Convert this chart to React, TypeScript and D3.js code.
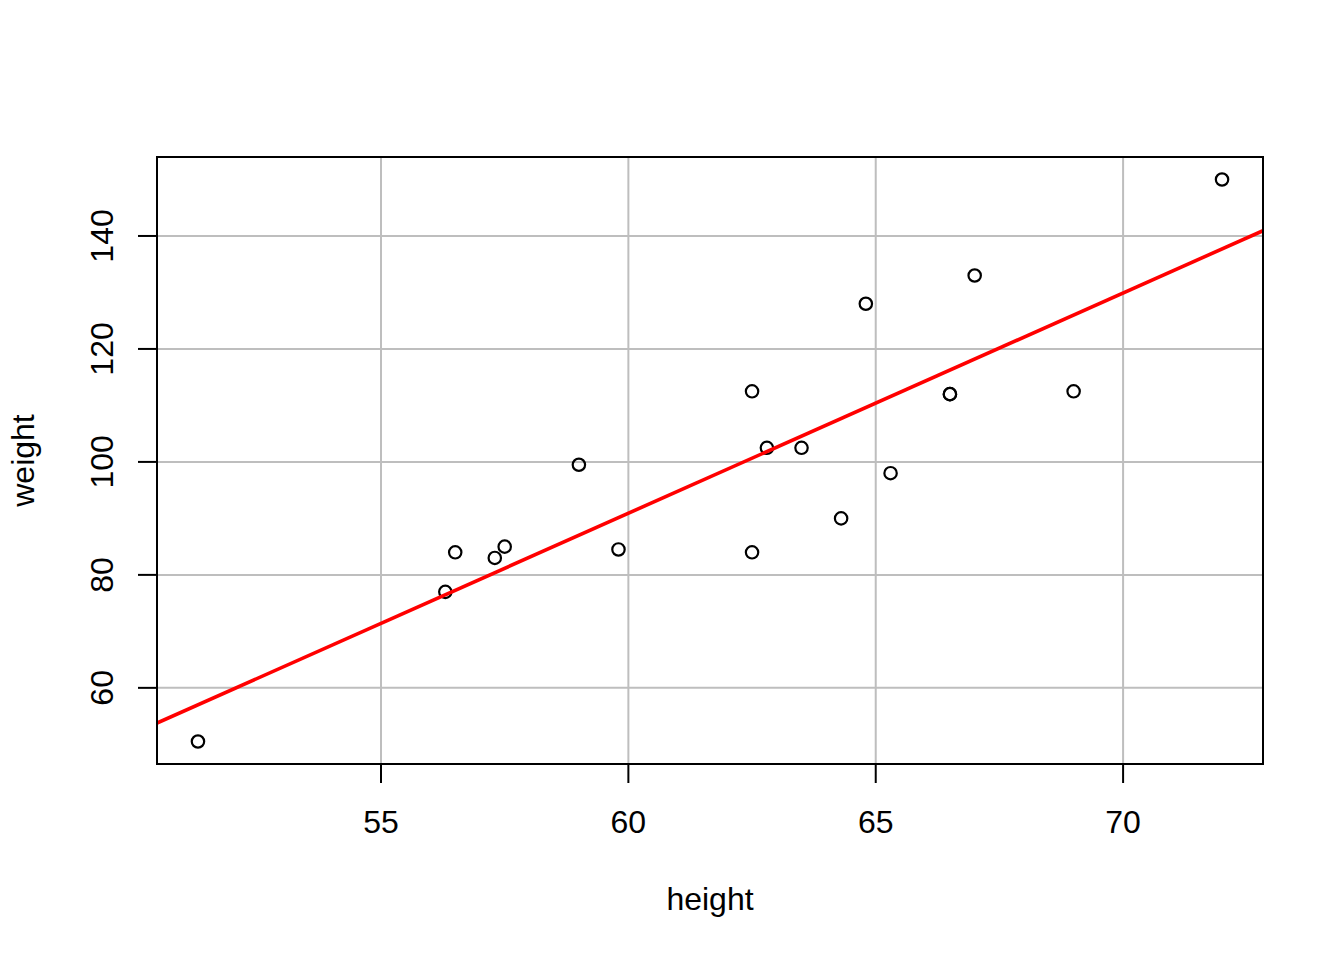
import React from "react";
import * as d3 from "d3";

const heights = [69.0, 56.5, 65.3, 62.8, 63.5, 57.3, 59.8, 62.5, 62.5, 59.0, 51.3, 64.3, 56.3, 66.5, 72.0, 64.8, 67.0, 57.5, 66.5];
const weights = [112.5, 84.0, 98.0, 102.5, 102.5, 83.0, 84.5, 112.5, 84.0, 99.5, 50.5, 90.0, 77.0, 112.0, 150.0, 128.0, 133.0, 85.0, 112.0];
const xTicks = [55, 60, 65, 70];
const yTicks = [60, 80, 100, 120, 140];

const W = 1344, H = 960;
const left = 157, right = 1263, top = 157, bottom = 764;
const FONT = "'Liberation Sans', Arial, sans-serif";

function padDomain(v: number[]): [number, number] {
  const [a, b] = d3.extent(v) as [number, number];
  const p = (b - a) * 0.04;
  return [a - p, b + p];
}

export default function App() {
  const x = d3.scaleLinear().domain(padDomain(heights)).range([left, right]);
  const y = d3.scaleLinear().domain(padDomain(weights)).range([bottom, top]);

  const mx = d3.mean(heights)!;
  const my = d3.mean(weights)!;
  let sxy = 0, sxx = 0;
  heights.forEach((h, i) => { sxy += (h - mx) * (weights[i] - my); sxx += (h - mx) ** 2; });
  const slope = sxy / sxx;
  const intercept = my - slope * mx;
  const [x0, x1] = x.domain();
  const line = d3.line<number>().x(d => x(d)).y(d => y(intercept + slope * d));

  return (
    <div style={{ position: "absolute", left: 0, top: 0 }}>
      <svg width={W} height={H} style={{ display: "block", background: "#fff" }}>
        <defs>
          <clipPath id="plotclip">
            <rect x={left} y={top} width={right - left} height={bottom - top} />
          </clipPath>
        </defs>
        {xTicks.map(t => (
          <line key={"gx" + t} x1={x(t)} x2={x(t)} y1={top} y2={bottom} stroke="#bebebe" strokeWidth={2} />
        ))}
        {yTicks.map(t => (
          <line key={"gy" + t} x1={left} x2={right} y1={y(t)} y2={y(t)} stroke="#bebebe" strokeWidth={2} />
        ))}
        {heights.map((h, i) => (
          <circle key={i} cx={x(h)} cy={y(weights[i])} r={6.2} fill="none" stroke="#000" strokeWidth={2.2} />
        ))}
        <path d={line([x0, x1]) || ""} stroke="#ff0000" strokeWidth={3.6} fill="none" clipPath="url(#plotclip)" />
        <rect x={left} y={top} width={right - left} height={bottom - top} fill="none" stroke="#000" strokeWidth={2} />
        {xTicks.map(t => (
          <g key={"tx" + t}>
            <line x1={x(t)} x2={x(t)} y1={bottom} y2={bottom + 19} stroke="#000" strokeWidth={2} />
            <text x={x(t)} y={833} textAnchor="middle" fontFamily={FONT} fontSize={32} fill="#000">{t}</text>
          </g>
        ))}
        {yTicks.map(t => (
          <g key={"ty" + t}>
            <line x1={left - 19} x2={left} y1={y(t)} y2={y(t)} stroke="#000" strokeWidth={2} />
            <text transform={`translate(113,${y(t)}) rotate(-90)`} textAnchor="middle" fontFamily={FONT} fontSize={32} fill="#000">{t}</text>
          </g>
        ))}
        <text x={(left + right) / 2} y={910} textAnchor="middle" fontFamily={FONT} fontSize={32} fill="#000">height</text>
        <text transform={`translate(34,${(top + bottom) / 2}) rotate(-90)`} textAnchor="middle" fontFamily={FONT} fontSize={32} fill="#000">weight</text>
      </svg>
    </div>
  );
}
